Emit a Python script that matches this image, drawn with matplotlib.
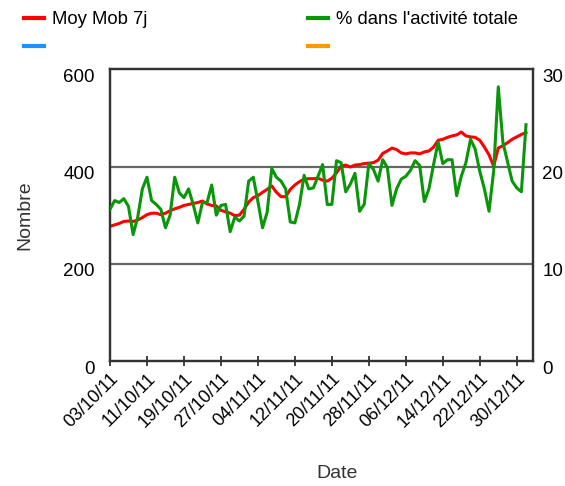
import matplotlib
matplotlib.use("Agg")
import matplotlib.pyplot as plt
import matplotlib.dates as mdates
import matplotlib.transforms as mtransforms
from matplotlib.lines import Line2D
import pandas as pd

plt.rcParams['font.family'] = ['Liberation Sans', 'DejaVu Sans']

start_date = "2011-10-03"
n_days = 91
dates = pd.date_range(start_date, periods=n_days, freq="D")

moy_mob_7j = [277, 280, 283, 287, 288, 287, 290, 295, 301, 304,
              304, 301, 304, 309, 313, 316, 320, 322, 324, 326,
              329, 323, 320, 319, 310, 307, 304, 299, 300, 312,
              327, 336, 340, 347, 353, 360, 347, 338, 338, 353,
              362, 369, 374, 375, 375, 376, 372, 370, 376, 387,
              401, 403, 399, 403, 404, 406, 407, 408, 413, 427,
              432, 438, 435, 428, 426, 428, 428, 426, 430, 432,
              440, 454, 456, 460, 463, 465, 471, 463, 461, 460,
              454, 440, 424, 401, 438, 443, 449, 456, 461, 466,
              470]

pct_activite = [15.6, 16.5, 16.3, 16.7, 15.9, 13.0, 14.8, 17.7, 18.9, 16.5,
                16.1, 15.6, 13.7, 15.0, 18.9, 17.3, 16.8, 17.7, 16.1, 14.2,
                16.3, 16.3, 18.1, 15.0, 16.0, 16.1, 13.3, 14.8, 14.4, 14.9,
                18.5, 18.9, 16.4, 13.7, 15.3, 19.8, 18.9, 18.5, 17.7, 14.3,
                14.2, 16.1, 19.1, 17.7, 17.8, 19.0, 20.2, 16.1, 16.1, 20.6,
                20.4, 17.4, 18.2, 19.3, 15.4, 16.1, 20.3, 19.7, 18.5, 20.7,
                19.9, 16.0, 17.7, 18.7, 19.0, 19.6, 20.6, 20.1, 16.4, 17.7,
                20.2, 22.5, 20.3, 20.7, 20.7, 17.0, 19.0, 20.4, 22.8, 21.8,
                19.5, 17.7, 15.4, 19.5, 28.2, 22.5, 20.5, 18.5, 17.8, 17.4,
                24.3]

series_labels = ["Moy Mob 7j", "% dans l'activité totale", "", ""]
series_colors = ["#ff0000", "#0a960a", "#1e90ff", "#ff9900"]
left_ticks = [0, 200, 400, 600]
right_ticks = [0, 10, 20, 30]

fig = plt.figure(figsize=(5.65, 4.86), dpi=100)
ax = fig.add_axes([110/565, 1-361/486, (532.7-110)/565, (361-69.3)/486])
ax2 = ax.twinx()

ax.plot(dates, moy_mob_7j, color=series_colors[0], lw=2.2, zorder=3)
ax2.plot(dates, pct_activite, color=series_colors[1], lw=2.2, zorder=3)
ax.plot([], [], color=series_colors[2])
ax2.plot([], [], color=series_colors[3])

ax.set_ylim(0, 600)
ax2.set_ylim(0, 30)
ax.set_yticks(left_ticks)
ax2.set_yticks(right_ticks)
x0 = dates[0]
ax.set_xlim(x0, x0 + pd.Timedelta(days=91.45))

tick_dates = pd.date_range(start_date, periods=12, freq="8D")
ax.set_xticks(tick_dates)
ax.xaxis.set_major_formatter(mdates.DateFormatter("%d/%m/%y"))

for y in [200, 400]:
    ax.axhline(y, color="#666666", lw=1.6, zorder=1)

for a in (ax, ax2):
    for s in a.spines.values():
        s.set_color("#333333")
        s.set_linewidth(1.6)

ax.tick_params(axis="x", direction="inout", length=7, width=1.3, color="#333333",
               labelsize=13, pad=3)
plt.setp(ax.get_xticklabels(), rotation=45, ha="right", rotation_mode="anchor")
ax.tick_params(axis="y", length=0, labelsize=13.5, pad=11)
ax2.tick_params(axis="y", length=0, labelsize=13.5, pad=7)

shift = mtransforms.Affine2D().translate(0, -6)
for lab in list(ax.get_yticklabels()) + list(ax2.get_yticklabels()):
    lab.set_transform(lab.get_transform() + shift)

ax.set_ylabel("Nombre", fontsize=14, color="#333333")
ax.yaxis.set_label_coords(-(110-33)/(532.7-110), 0.5)
fig.text(337/565, 1 - 473/486, "Date", fontsize=14, color="#333333",
         ha="center", va="center")

handles = [Line2D([], [], color=series_colors[0], lw=3),
           Line2D([], [], color=series_colors[2], lw=3),
           Line2D([], [], color=series_colors[1], lw=3),
           Line2D([], [], color=series_colors[3], lw=3)]
labels = [series_labels[0], series_labels[2], series_labels[1], series_labels[3]]
fig.legend(handles, labels, ncol=2, loc="upper left",
           bbox_to_anchor=(17/565, 1 - 4/486), frameon=False, fontsize=13.3,
           handlelength=1.05, handletextpad=0.45, columnspacing=8.7,
           labelspacing=0.62, borderaxespad=0)

fig.savefig("out.png", dpi=100)
